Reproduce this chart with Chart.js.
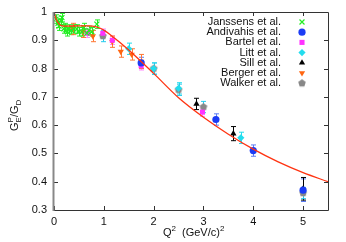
<!DOCTYPE html>
<html>
<head>
<meta charset="utf-8">
<script src="https://cdn.jsdelivr.net/npm/chart.js@4"></script>
<style>
  html, body { margin: 0; padding: 0; background: #fff; }
  #wrap { width: 346px; height: 242px; }
</style>
</head>
<body>
<div id="wrap"><canvas id="c" width="346" height="242"></canvas></div>
<script>
// values: [Q^2, G_E^p/G_D, error]
const janssens = [
  [0.04, 0.975, 0.015], [0.08, 0.960, 0.015], [0.10, 0.950, 0.015], [0.14, 0.970, 0.015],
  [0.16, 0.980, 0.015], [0.20, 0.940, 0.015], [0.22, 0.945, 0.015], [0.27, 0.930, 0.015],
  [0.30, 0.940, 0.015], [0.35, 0.935, 0.015], [0.40, 0.940, 0.015], [0.46, 0.940, 0.015],
  [0.50, 0.930, 0.015], [0.56, 0.930, 0.015], [0.60, 0.945, 0.015], [0.66, 0.925, 0.015],
  [0.70, 0.935, 0.015], [0.76, 0.930, 0.015], [0.86, 0.957, 0.015]
];
const andivahis = [[1.75, 0.820, 0.020], [3.25, 0.620, 0.020], [4.00, 0.510, 0.020], [5.00, 0.370, 0.040]];
const bartel = [[0.67, 0.925, 0.015], [0.98, 0.925, 0.015], [1.17, 0.900, 0.015], [1.75, 0.810, 0.015], [2.98, 0.646, 0.015]];
const litt = [[1.50, 0.870, 0.020], [2.00, 0.800, 0.020], [2.50, 0.730, 0.020], [3.75, 0.555, 0.020]];
const sill = [[2.86, 0.675, 0.020], [3.60, 0.570, 0.025], [5.00, 0.375, 0.040]];
const berger = [[0.38, 0.940, 0.020], [0.58, 0.930, 0.020], [0.78, 0.915, 0.020], [1.17, 0.895, 0.020],
                [1.34, 0.860, 0.020], [1.56, 0.850, 0.020], [1.75, 0.825, 0.025]];
const walker = [[0.98, 0.915, 0.020], [2.00, 0.800, 0.020], [2.50, 0.725, 0.020], [3.00, 0.664, 0.020], [5.00, 0.360, 0.020]];

// fit curve
const fitQ2 = [0, 0.05, 0.10, 0.15, 0.25, 0.50, 0.70, 0.85, 1.00, 1.20, 1.50, 2.00, 2.50, 3.00, 3.50, 4.00, 4.50, 5.00, 5.50];
const fitRatio = [1.0, 0.972, 0.958, 0.952, 0.950, 0.951, 0.951, 0.947, 0.936, 0.910, 0.866, 0.783, 0.697, 0.628, 0.568, 0.515, 0.470, 0.432, 0.400];

const xTicks = [0, 1, 2, 3, 4, 5];
const yTicks = [0.3, 0.4, 0.5, 0.6, 0.7, 0.8, 0.9, 1];

// pentagon marker for Walker
function pentagon(r, color) {
  const cv = document.createElement('canvas');
  cv.width = cv.height = r * 2 + 2;
  const g = cv.getContext('2d');
  g.fillStyle = color;
  g.beginPath();
  for (let i = 0; i < 5; i++) {
    const a = -Math.PI / 2 + i * 2 * Math.PI / 5;
    const px = r + 1 + r * Math.cos(a), py = r + 1 + r * Math.sin(a);
    i ? g.lineTo(px, py) : g.moveTo(px, py);
  }
  g.closePath();
  g.fill();
  return cv;
}

function pts(arr) {
  return arr.map(p => ({ x: p[0], y: p[1], err: p[2] }));
}

function series(label, arr, style, color, barColor, radius, rotation) {
  return {
    label: label,
    data: pts(arr),
    pointStyle: style,
    backgroundColor: color,
    borderColor: color,
    borderWidth: style === 'crossRot' ? 1.2 : 0,
    pointRadius: radius,
    rotation: rotation || 0,
    errColor: barColor,
    showLine: false
  };
}

const font = "'Liberation Sans', Arial, sans-serif";

const errorBars = {
  id: 'errorBars',
  beforeDatasetsDraw(chart) {
    const ctx = chart.ctx;
    const x = chart.scales.x, y = chart.scales.y;
    ctx.save();
    chart.data.datasets.forEach(ds => {
      if (!ds.errColor) return;
      ctx.strokeStyle = ds.errColor;
      ctx.lineWidth = 1;
      ds.data.forEach(p => {
        const px = Math.round(x.getPixelForValue(p.x)) + 0.5;
        const y1 = y.getPixelForValue(p.y + p.err), y2 = y.getPixelForValue(p.y - p.err);
        ctx.beginPath();
        ctx.moveTo(px, y1); ctx.lineTo(px, y2);
        ctx.moveTo(px - 2.5, y1); ctx.lineTo(px + 2.5, y1);
        ctx.moveTo(px - 2.5, y2); ctx.lineTo(px + 2.5, y2);
        ctx.stroke();
      });
    });
    ctx.restore();
  }
};

const frame = {
  id: 'frame',
  afterDraw(chart) {
    const ctx = chart.ctx, a = chart.chartArea;
    const x = chart.scales.x, y = chart.scales.y;
    ctx.save();
    ctx.strokeStyle = '#333';
    ctx.lineWidth = 1;
    ctx.beginPath();
    ctx.moveTo(a.left, a.top + 0.5); ctx.lineTo(a.right + 0.5, a.top + 0.5);
    ctx.lineTo(a.right + 0.5, a.bottom + 0.5); ctx.lineTo(a.left, a.bottom + 0.5);
    xTicks.forEach(v => {
      const px = Math.round(x.getPixelForValue(v)) + 0.5;
      ctx.moveTo(px, a.bottom); ctx.lineTo(px, a.bottom - 4);
      ctx.moveTo(px, a.top); ctx.lineTo(px, a.top + 4);
    });
    yTicks.forEach(v => {
      const py = Math.round(y.getPixelForValue(v)) + 0.5;
      ctx.moveTo(a.left, py); ctx.lineTo(a.left + 4, py);
      ctx.moveTo(a.right, py); ctx.lineTo(a.right - 4, py);
    });
    ctx.stroke();
    ctx.strokeStyle = '#888';
    ctx.lineWidth = 2;
    ctx.beginPath();
    ctx.moveTo(a.left - 0.5, a.top); ctx.lineTo(a.left - 0.5, a.bottom + 1);
    ctx.stroke();

    // y tick labels
    ctx.fillStyle = '#111';
    ctx.font = '11px ' + font;
    ctx.textAlign = 'right';
    ctx.textBaseline = 'middle';
    yTicks.forEach(v => {
      ctx.fillText(String(v), a.left - 7, y.getPixelForValue(v));
    });

    // axis titles
    ctx.textBaseline = 'alphabetic';
    ctx.textAlign = 'left';
    let tx = 163, ty = 236;
    ctx.fillText('Q', tx, ty);
    tx += ctx.measureText('Q').width;
    ctx.font = '8px ' + font;
    ctx.fillText('2', tx, ty - 5);
    tx += ctx.measureText('2').width + 6;
    ctx.font = '11px ' + font;
    ctx.fillText('(GeV/c)', tx, ty);
    tx += ctx.measureText('(GeV/c)').width;
    ctx.font = '8px ' + font;
    ctx.fillText('2', tx, ty - 5);

    ctx.translate(18, 131);
    ctx.rotate(-Math.PI / 2);
    ctx.font = '11px ' + font;
    tx = 0;
    ctx.fillText('G', tx, 0);
    tx += ctx.measureText('G').width;
    ctx.font = '8px ' + font;
    ctx.fillText('E', tx, 3);
    ctx.fillText('P', tx, -5);
    tx += ctx.measureText('E').width;
    ctx.font = '11px ' + font;
    ctx.fillText('/G', tx, 0);
    tx += ctx.measureText('/G').width;
    ctx.font = '8px ' + font;
    ctx.fillText('D', tx, 3);
    ctx.restore();

    // legend inside the plot, text right-aligned, marker to the right
    ctx.save();
    ctx.font = '11px ' + font;
    ctx.textAlign = 'right';
    ctx.textBaseline = 'middle';
    chart.data.datasets.forEach((ds, i) => {
      if (!ds.errColor) return;
      const ly = 22 + i * 10.2;
      ctx.fillStyle = '#111';
      ctx.fillText(ds.label, 281, ly);
      ctx.fillStyle = ds.backgroundColor;
      ctx.strokeStyle = ds.borderColor;
      ctx.lineWidth = ds.borderWidth || 1;
      Chart.helpers.drawPoint(ctx, {
        pointStyle: ds.pointStyle, rotation: ds.rotation, radius: ds.pointRadius,
        borderWidth: ds.borderWidth
      }, 302, ly);
    });
    ctx.restore();
  }
};

new Chart(document.getElementById('c'), {
  type: 'scatter',
  data: {
    datasets: [
      series('Janssens et al.', janssens, 'crossRot', '#22ee22', '#22ee22', 3.5),
      series('Andivahis et al.', andivahis, 'circle', '#1c3cf5', '#5c7cf5', 3.6),
      series('Bartel et al.', bartel, 'rect', '#ff33ff', '#ff88ff', 3.6),
      series('Litt et al.', litt, 'rectRot', '#22ddee', '#22ddee', 3.6),
      series('Sill et al.', sill, 'triangle', '#000000', '#000000', 3.6),
      series('Berger et al.', berger, 'triangle', '#ff6611', '#ff7733', 3.6, 180),
      series('Walker et al.', walker, pentagon(4, '#888888'), '#888888', '#22ccee', 4),
      {
        label: 'fit',
        data: fitQ2.map((q, i) => ({ x: q, y: fitRatio[i] })),
        showLine: true,
        borderColor: '#ff3311',
        borderWidth: 1.3,
        pointRadius: 0,
        cubicInterpolationMode: 'monotone',
        order: -1
      }
    ]
  },
  options: {
    responsive: false,
    animation: false,
    layout: { padding: { top: 12, right: 18, left: 0, bottom: 0 } },
    plugins: { legend: { display: false }, tooltip: { enabled: false } },
    scales: {
      x: {
        type: 'linear', min: 0, max: 5.5,
        afterBuildTicks: s => { s.ticks = xTicks.map(v => ({ value: v })); },
        afterFit: s => { s.height = 32; },
        grid: { display: false, drawTicks: false },
        border: { display: false },
        ticks: { padding: 5, color: '#111', font: { family: font, size: 11 } }
      },
      y: {
        type: 'linear', min: 0.3, max: 1,
        afterFit: s => { s.width = 54; },
        grid: { display: false, drawTicks: false },
        border: { display: false },
        ticks: { display: false }
      }
    }
  },
  plugins: [errorBars, frame]
});
</script>
</body>
</html>
